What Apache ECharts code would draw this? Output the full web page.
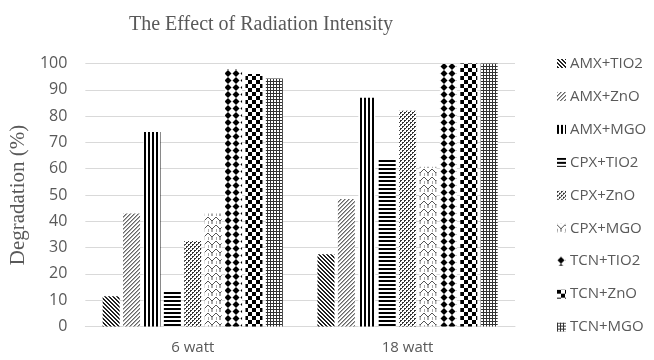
<!DOCTYPE html>
<html><head><meta charset="utf-8">
<script src="https://cdn.jsdelivr.net/npm/echarts@6/dist/echarts.min.js"></script>
<style>html,body{margin:0;padding:0;background:#fff}#c{width:654px;height:360px}</style>
</head><body><div id="c"></div>
<script>
var categories = ['6 watt', '18 watt'];
var seriesNames = ['AMX+TIO2','AMX+ZnO','AMX+MGO','CPX+TIO2','CPX+ZnO','CPX+MGO','TCN+TIO2','TCN+ZnO','TCN+MGO'];
var amxTio2 = [11.5, 27.5];
var amxZno  = [43, 48.5];
var amxMgo  = [74, 87];
var cpxTio2 = [13.7, 63.7];
var cpxZno  = [32.5, 82];
var cpxMgo  = [43, 60.7];
var tcnTio2 = [97.8, 99.8];
var tcnZno  = [96, 100];
var tcnMgo  = [94.3, 100];
var yTicks = [0,10,20,30,40,50,60,70,80,90,100];

function tile(w, h, draw) {
  var c = document.createElement('canvas'); c.width = w; c.height = h;
  var g = c.getContext('2d'); g.fillStyle = '#fff'; g.fillRect(0,0,w,h);
  draw(g); return {image: c, repeat: 'repeat'};
}
var patterns = [
  tile(4,4,function(g){ g.fillStyle='#222'; for(var i=0;i<4;i++){ g.fillRect(i,i,1,1); g.fillRect((i+1)%4,i,1,1);} }),
  tile(4,4,function(g){ g.fillStyle='#666'; for(var i=0;i<4;i++){ g.fillRect(3-i,i,1,1);} g.fillStyle='#aaa'; for(var i=0;i<4;i++){ g.fillRect((4-i)%4,i,1,1);} }),
  tile(4,1,function(g){ g.fillStyle='#000'; g.fillRect(0,0,2,1); }),
  tile(1,4,function(g){ g.fillStyle='#000'; g.fillRect(0,0,1,2); }),
  tile(4,4,function(g){ g.fillStyle='#333'; g.fillRect(0,0,2,2); g.fillRect(2,2,2,2); g.fillStyle='#fff'; g.fillRect(1,1,1,1); g.fillRect(3,3,1,1); }),
  tile(8,8,function(g){ g.strokeStyle='#555'; g.lineWidth=1; g.beginPath(); g.moveTo(0,1); g.lineTo(4,5); g.lineTo(8,1); g.moveTo(4,5); g.lineTo(4,8); g.moveTo(0,5); g.lineTo(0,8); g.stroke(); }),
  tile(8,7,function(g){ g.fillStyle='#000'; g.beginPath(); g.moveTo(4,0); g.lineTo(7.5,3.5); g.lineTo(4,7); g.lineTo(0.5,3.5); g.closePath(); g.fill(); }),
  tile(8,8,function(g){ g.fillStyle='#000'; g.fillRect(0,0,4,4); g.fillRect(4,4,4,4); }),
  tile(3,3,function(g){ g.fillStyle='#333'; g.fillRect(0,0,3,1); g.fillRect(0,0,1,3); })
];
var allValues = [amxTio2, amxZno, amxMgo, cpxTio2, cpxZno, cpxMgo, tcnTio2, tcnZno, tcnMgo];

var series = seriesNames.map(function(n, i){
  return {name: n, type: 'bar', data: allValues[i], barWidth: 17, barGap: '20%',
    itemStyle: {color: patterns[i]}};
});

var chart = echarts.init(document.getElementById('c'));
chart.setOption({
  animation: false,
  title: {text: 'The Effect of Radiation Intensity', left: 124, top: 10,
    textStyle: {fontFamily: 'Liberation Serif', fontSize: 20, fontWeight: 'normal', color: '#595959'}},
  grid: {left: 85, right: 139, top: 63.5, bottom: 33.5},
  legend: {orient: 'vertical', left: 552, top: 51, itemWidth: 9, itemHeight: 9, itemGap: 17.95,
    icon: 'rect',
    textStyle: {fontFamily: 'Open Sans', fontSize: 15, color: '#595959', lineHeight: 14, padding: [0,0,0,-1]}},
  xAxis: {type: 'category', data: categories,
    axisLine: {lineStyle: {color: '#d9d9d9'}}, axisTick: {show: false},
    axisLabel: {fontFamily: 'Open Sans', fontSize: 15, color: '#595959', margin: 14}},
  yAxis: {type: 'value', min: 0, max: 100, interval: 10,
    name: 'Degradation (%)', nameLocation: 'middle', nameGap: 56, nameRotate: 90,
    nameTextStyle: {fontFamily: 'Liberation Serif', fontSize: 21, color: '#595959'},
    axisLabel: {fontFamily: 'Open Sans', fontSize: 16, color: '#595959', margin: 18},
    splitLine: {lineStyle: {color: '#d9d9d9'}}, axisLine: {show: false}, axisTick: {show: false}},
  series: series
});
</script></body></html>
